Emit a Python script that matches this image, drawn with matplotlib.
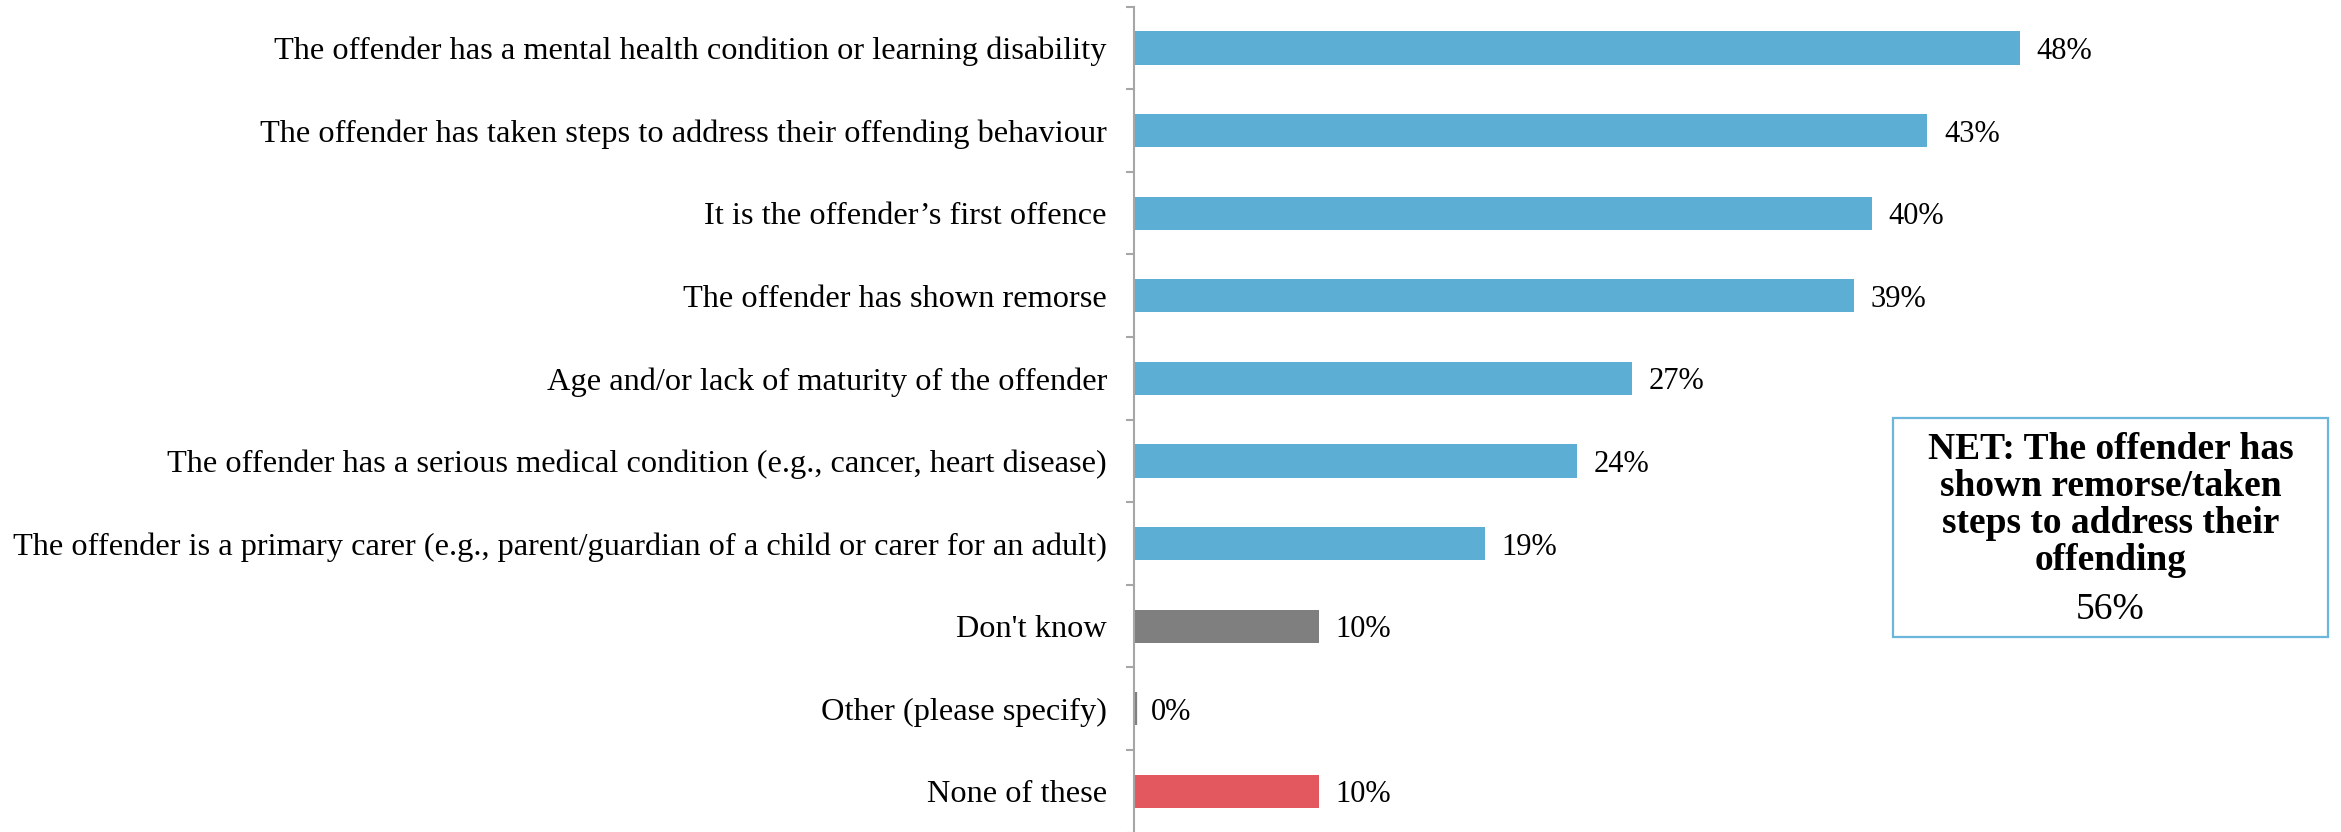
import matplotlib
matplotlib.use("Agg")
import matplotlib.pyplot as plt
from matplotlib.patches import Rectangle

# Survey responses, top to bottom
categories = [
    "The offender has a mental health condition or learning disability",
    "The offender has taken steps to address their offending behaviour",
    "It is the offender\u2019s first offence",
    "The offender has shown remorse",
    "Age and/or lack of maturity of the offender",
    "The offender has a serious medical condition (e.g., cancer, heart disease)",
    "The offender is a primary carer (e.g., parent/guardian of a child or carer for an adult)",
    "Don't know",
    "Other (please specify)",
    "None of these",
]
values = [48, 43, 40, 39, 27, 24, 19, 10, 0, 10]
response_type = ["factor"] * 7 + ["unsure", "unsure", "none"]

net_label = "NET: The offender has\nshown remorse/taken\nsteps to address their\noffending"
net_value = 56

type_colors = {"factor": "#5DAED5", "unsure": "#7F7F7F", "none": "#E3585F"}

plt.rcParams["font.family"] = ["Liberation Serif", "DejaVu Serif"]

fig = plt.figure(figsize=(23.41, 8.32), dpi=100)
ax = fig.add_axes([0.48441, -0.00084, 0.4729, 0.99279])

ypos = list(range(len(categories)))
colors = [type_colors[t] for t in response_type]
ax.barh(ypos, values, height=0.4, color=colors,
        edgecolor=colors, linewidth=[4.5 if v == 0 else 0 for v in values])

for y, v in zip(ypos, values):
    ax.annotate("{}%".format(v), xy=(v, y), xytext=(12, -2.5),
                textcoords="offset points", va="center", ha="left",
                fontsize=22, color="black")

ax.set_xlim(0, 60)
ax.set_ylim(len(categories) - 0.5, -0.5)
ax.set_yticks(ypos)
ax.set_yticklabels(categories, fontsize=23.3)
ax.set_yticks([i - 0.5 for i in range(len(categories) + 1)], minor=True)
ax.tick_params(axis="y", which="major", length=0, pad=19.5)
ax.tick_params(axis="y", which="minor", length=6, width=1.5, color="#A6A6A6",
               direction="out")
ax.set_xticks([])

for side in ["top", "right", "bottom"]:
    ax.spines[side].set_visible(False)
ax.spines["left"].set_color("#A6A6A6")
ax.spines["left"].set_linewidth(1.5)

# NET callout box
x0, x1 = 1893 / 2341, 2328 / 2341
y0, y1 = 1 - 637 / 832, 1 - 418 / 832
fig.patches.append(Rectangle((x0, y0), x1 - x0, y1 - y0, transform=fig.transFigure,
                             fill=False, edgecolor="#6BB6DB", linewidth=1.6))
fig.text((x0 + x1) / 2, 0.393, net_label, ha="center", va="center",
         fontsize=27, fontweight="bold", linespacing=1.07)
fig.text((x0 + x1) / 2, 0.267, "{}%".format(net_value), ha="center", va="center",
         fontsize=27)

fig.savefig("out.png", dpi=100)
